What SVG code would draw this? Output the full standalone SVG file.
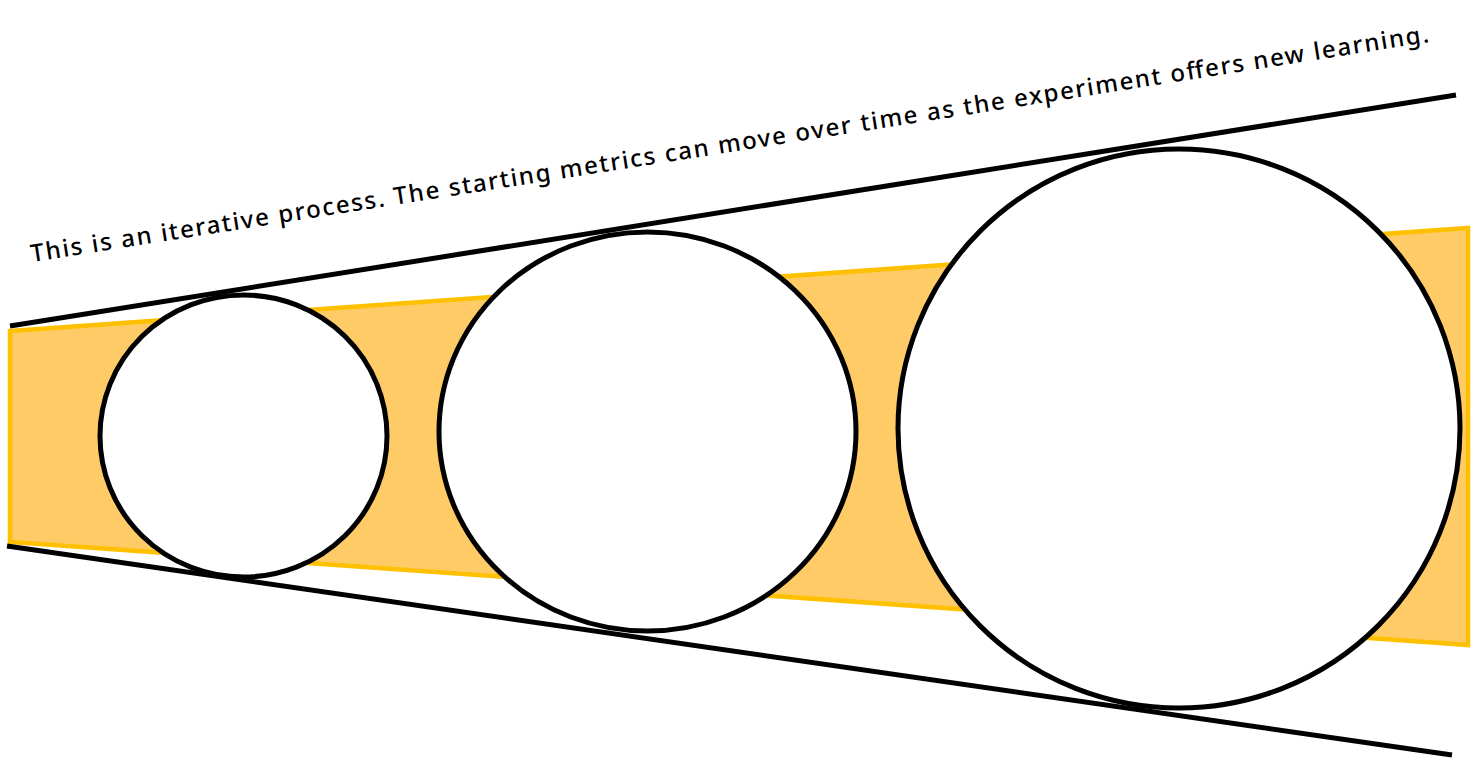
<svg xmlns="http://www.w3.org/2000/svg" width="1479" height="758" viewBox="0 0 1479 758">
  <style>
    .band { fill: #FECB66; stroke: #FFC000; stroke-width: 4.5; stroke-linejoin: miter; }
    .edge { stroke: #000; stroke-width: 5; fill: none; stroke-linecap: butt; }
    .stage { fill: #fff; stroke: #000; stroke-width: 5; }
    .note { font-family: "Noto Sans", "Open Sans", sans-serif; font-size: 24px; font-weight: 500; fill: #000; }
  </style>
  <rect width="1479" height="758" fill="#fff"/>
  <g id="band">
    <polygon class="band" points="10,331 1468,228 1468,645 10,542"/>
  </g>
  <g id="connectors">
    <line class="edge" x1="10" y1="326" x2="1456" y2="95"/>
    <line class="edge" x1="7" y1="546" x2="1452" y2="755"/>
  </g>
  <g id="stage1">
    <ellipse class="stage" cx="243.5" cy="436" rx="143.5" ry="141"/>
  </g>
  <g id="stage2">
    <ellipse class="stage" cx="647.5" cy="431.5" rx="208.5" ry="199.5"/>
  </g>
  <g id="stage3">
    <ellipse class="stage" cx="1179" cy="428.5" rx="281" ry="279.5"/>
  </g>
  <g id="caption">
    <text class="note" x="32" y="262" transform="rotate(-8.95 32 262)" textLength="1415" lengthAdjust="spacing">This is an iterative process. The starting metrics can move over time as the experiment offers new learning.</text>
  </g>
</svg>
